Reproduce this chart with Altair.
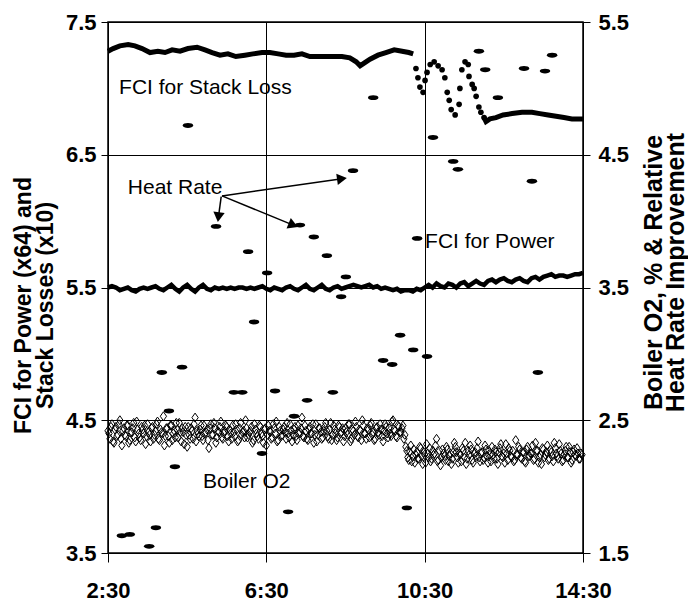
import altair as alt
import pandas as pd

FONT = "Liberation Sans"

# ---------------- data ----------------
# x in hours (2.5 = 2:30)
# Heat rate points (right axis units)
hr_time = [2.85, 3.05, 3.54, 3.71, 3.86, 4.04, 4.19, 4.37, 4.52, 5.23,
           5.68, 5.89, 6.04, 6.19, 6.39, 6.52, 6.72, 7.05, 7.20, 7.35,
           7.53, 7.70, 8.03, 8.18, 8.39, 8.51, 8.69, 9.20, 9.45, 9.68,
           9.88, 10.05, 10.21, 10.31, 10.56, 10.71, 11.22, 11.34, 11.87, 12.03,
           12.35, 13.01, 13.21, 13.36, 13.54, 13.72]
hr_value = [1.63, 1.64, 1.55, 1.69, 2.86, 2.57, 2.15, 2.90, 4.72, 3.96,
            2.71, 2.71, 3.77, 3.24, 2.25, 3.61, 2.72, 1.81, 2.53, 3.97,
            2.65, 3.88, 3.74, 2.71, 3.43, 3.58, 4.38, 4.93, 2.95, 2.92,
            3.14, 1.84, 3.03, 3.87, 2.98, 4.63, 4.45, 4.39, 5.28, 5.14,
            4.93, 5.15, 4.30, 2.86, 5.13, 5.25]

# FCI for stack loss (left axis units)
sl_time_a = [2.50, 2.63, 2.80, 3.01, 3.18, 3.36, 3.56, 3.76, 3.94, 4.12,
             4.32, 4.52, 4.75, 4.95, 5.13, 5.33, 5.53, 5.73, 5.96, 6.16,
             6.39, 6.59, 6.80, 7.00, 7.20, 7.40, 7.60, 7.81, 8.01, 8.21,
             8.41, 8.61, 8.77, 8.87, 8.97, 9.12, 9.32, 9.52, 9.73, 9.93,
             10.10, 10.21]
sl_val_a = [7.28, 7.30, 7.32, 7.33, 7.32, 7.30, 7.27, 7.28, 7.27, 7.29,
            7.28, 7.30, 7.31, 7.29, 7.27, 7.25, 7.26, 7.24, 7.25, 7.26,
            7.27, 7.27, 7.26, 7.25, 7.25, 7.26, 7.24, 7.24, 7.24, 7.24,
            7.24, 7.23, 7.20, 7.17, 7.19, 7.22, 7.25, 7.27, 7.29, 7.28,
            7.27, 7.26]
osc_time = [10.28, 10.33, 10.38, 10.46, 10.51, 10.56, 10.64, 10.74, 10.84, 10.94,
            11.01, 11.07, 11.12, 11.17, 11.27, 11.37, 11.39, 11.44, 11.52, 11.60,
            11.62, 11.70, 11.75, 11.80, 11.87, 11.92, 12.00]
osc_val = [7.15, 7.08, 7.01, 6.97, 7.06, 7.12, 7.18, 7.20, 7.17, 7.14,
           7.08, 6.97, 6.91, 6.84, 6.80, 6.88, 7.00, 7.14, 7.20, 7.18,
           7.09, 7.03, 7.00, 6.94, 6.86, 6.82, 6.78]
sl_time_b = [12.00, 12.05, 12.15, 12.30, 12.48, 12.71, 12.96, 13.21, 13.41, 13.62,
             13.82, 14.02, 14.22, 14.50]
sl_val_b = [6.78, 6.75, 6.77, 6.78, 6.80, 6.81, 6.82, 6.82, 6.81, 6.80,
            6.79, 6.78, 6.77, 6.77]

# FCI for power (left axis units), one reading every 0.1 h from 2:30
power_start, power_step = 2.5, 0.1
power_val = [5.50, 5.51, 5.50, 5.48, 5.49, 5.50, 5.48, 5.47, 5.49, 5.50,
             5.49, 5.50, 5.51, 5.49, 5.48, 5.50, 5.52, 5.49, 5.47, 5.50,
             5.52, 5.49, 5.47, 5.50, 5.52, 5.49, 5.48, 5.50, 5.49, 5.50,
             5.49, 5.50, 5.49, 5.50, 5.50, 5.49, 5.50, 5.49, 5.50, 5.51,
             5.49, 5.48, 5.50, 5.49, 5.48, 5.50, 5.51, 5.49, 5.48, 5.50,
             5.52, 5.49, 5.48, 5.50, 5.52, 5.49, 5.48, 5.50, 5.51, 5.49,
             5.50, 5.51, 5.52, 5.51, 5.50, 5.51, 5.52, 5.50, 5.51, 5.49,
             5.50, 5.49, 5.48, 5.49, 5.47, 5.48, 5.48, 5.47, 5.49, 5.48,
             5.50, 5.52, 5.50, 5.53, 5.51, 5.50, 5.53, 5.52, 5.50, 5.53,
             5.54, 5.51, 5.53, 5.55, 5.53, 5.52, 5.55, 5.56, 5.54, 5.56,
             5.57, 5.55, 5.54, 5.56, 5.57, 5.55, 5.54, 5.57, 5.58, 5.56,
             5.58, 5.59, 5.60, 5.58, 5.59, 5.59, 5.58, 5.59, 5.60, 5.60,
             5.61]

# Boiler O2 (right axis units), two interleaved reading series every 0.05 h
o2_start_a, o2_start_b, o2_step = 2.5, 2.525, 0.05
o2_val_a = [2.42, 2.36, 2.47, 2.33, 2.45, 2.39, 2.50, 2.31, 2.44, 2.38,
            2.46, 2.35, 2.41, 2.48, 2.34, 2.43, 2.37, 2.45, 2.40, 2.32,
            2.47, 2.39, 2.44, 2.36, 2.42, 2.49, 2.35, 2.41, 2.53, 2.38,
            2.44, 2.33, 2.46, 2.40, 2.37, 2.43, 2.48, 2.34, 2.41, 2.45,
            2.30, 2.39, 2.44, 2.36, 2.52, 2.42, 2.38, 2.46, 2.35, 2.40,
            2.43, 2.29, 2.47, 2.39, 2.44, 2.37, 2.41, 2.49, 2.36, 2.42,
            2.45, 2.34, 2.40, 2.46, 2.38, 2.43, 2.35, 2.48, 2.41, 2.37,
            2.44, 2.39, 2.42, 2.33, 2.47, 2.40, 2.36, 2.45, 2.38, 2.43,
            2.31, 2.46, 2.41, 2.37, 2.44, 2.49, 2.35, 2.42, 2.39, 2.45,
            2.36, 2.40, 2.47, 2.34, 2.43, 2.38, 2.46, 2.41, 2.52, 2.37,
            2.42, 2.35, 2.45, 2.40, 2.33, 2.47, 2.39, 2.44, 2.36, 2.42,
            2.48, 2.38, 2.43, 2.35, 2.46, 2.40, 2.37, 2.45, 2.41, 2.34,
            2.44, 2.39, 2.47, 2.36, 2.42, 2.49, 2.38, 2.43, 2.35, 2.46,
            2.40, 2.44, 2.37, 2.48, 2.41, 2.36, 2.45, 2.39, 2.43, 2.34,
            2.47, 2.40, 2.44, 2.38, 2.50, 2.42, 2.37, 2.45, 2.41, 2.46,
            2.39,
            2.27, 2.20, 2.31, 2.23, 2.18, 2.26, 2.21, 2.29, 2.17, 2.24,
            2.32, 2.22, 2.19, 2.27, 2.25, 2.36, 2.20, 2.16, 2.28, 2.23,
            2.30, 2.19, 2.25, 2.21, 2.33, 2.26, 2.18, 2.24, 2.29, 2.22,
            2.17, 2.27, 2.31, 2.20, 2.25, 2.23, 2.34, 2.19, 2.26, 2.22,
            2.28, 2.18, 2.24, 2.30, 2.21, 2.26, 2.17, 2.29, 2.23, 2.25,
            2.32, 2.20, 2.27, 2.22, 2.19, 2.35, 2.24, 2.28, 2.21, 2.26,
            2.18, 2.30, 2.23, 2.25, 2.20, 2.33, 2.27, 2.22, 2.17, 2.28,
            2.24, 2.31, 2.21, 2.26, 2.19, 2.29, 2.23, 2.32, 2.25, 2.20,
            2.27, 2.22, 2.30, 2.18, 2.26, 2.24, 2.29, 2.21, 2.25]
o2_val_b = [2.40, 2.45, 2.34, 2.43, 2.38, 2.47, 2.36, 2.42, 2.39, 2.46,
            2.33, 2.41, 2.44, 2.37, 2.49, 2.40, 2.35, 2.43, 2.46, 2.38,
            2.41, 2.34, 2.45, 2.39, 2.47, 2.36, 2.43, 2.40, 2.31, 2.44,
            2.38, 2.46, 2.35, 2.42, 2.48, 2.37, 2.41, 2.44, 2.32, 2.39,
            2.45, 2.36, 2.42, 2.47, 2.34, 2.40, 2.43, 2.38, 2.46, 2.41,
            2.35, 2.44, 2.39, 2.48, 2.33, 2.42, 2.45, 2.37, 2.40, 2.46,
            2.38, 2.43, 2.36, 2.41, 2.47, 2.34, 2.44, 2.39, 2.42, 2.50,
            2.37, 2.41, 2.45, 2.35, 2.43, 2.38, 2.46, 2.40, 2.33, 2.44,
            2.39, 2.42, 2.36, 2.47, 2.40, 2.34, 2.45, 2.38, 2.43, 2.41,
            2.48, 2.37, 2.42, 2.39, 2.45, 2.35, 2.40, 2.44, 2.38, 2.46,
            2.36, 2.43, 2.40, 2.47, 2.39, 2.34, 2.44, 2.41, 2.37, 2.45,
            2.42, 2.36, 2.48, 2.39, 2.43, 2.35, 2.46, 2.40, 2.44, 2.38,
            2.41, 2.47, 2.34, 2.43, 2.39, 2.45, 2.37, 2.42, 2.50, 2.40,
            2.36, 2.43, 2.46, 2.39, 2.35, 2.44, 2.41, 2.47, 2.38, 2.42,
            2.45, 2.37, 2.40, 2.49, 2.43, 2.38, 2.46, 2.41, 2.44, 2.36,
            2.30,
            2.22, 2.26, 2.19, 2.28, 2.24, 2.21, 2.30, 2.23, 2.26, 2.18,
            2.25, 2.29, 2.21, 2.24, 2.31, 2.19, 2.27, 2.22, 2.25, 2.20,
            2.28, 2.23, 2.17, 2.26, 2.30, 2.22, 2.25, 2.19, 2.27, 2.33,
            2.21, 2.24, 2.28, 2.18, 2.26, 2.29, 2.22, 2.25, 2.20, 2.31,
            2.23, 2.27, 2.19, 2.24, 2.28, 2.21, 2.26, 2.32, 2.22, 2.18,
            2.25, 2.29, 2.23, 2.27, 2.20, 2.24, 2.30, 2.22, 2.26, 2.19,
            2.28, 2.23, 2.25, 2.31, 2.21, 2.27, 2.18, 2.24, 2.29, 2.22,
            2.26, 2.20, 2.28, 2.23, 2.33, 2.25, 2.21, 2.27, 2.19, 2.24,
            2.30, 2.22, 2.26, 2.20, 2.28, 2.23, 2.25, 2.21, 2.24]

# annotations (left axis units)
label_text = ["FCI for Stack Loss", "Heat Rate", "FCI for Power", "Boiler O2"]
label_time = [2.78, 3.00, 10.51, 4.90]
label_val = [7.00, 6.25, 5.84, 4.035]

arrow_t0 = [5.38, 5.38, 5.36]
arrow_v0 = [6.19, 6.19, 6.185]
arrow_t1 = [8.41, 7.18, 5.29]
arrow_v1 = [6.32, 5.97, 6.03]
arrow_angle = [82, 112, 187]

x_ticks = [2.5, 6.5, 10.5, 14.5]
left_ticks = [3.5, 4.5, 5.5, 6.5, 7.5]
right_ticks = [1.5, 2.5, 3.5, 4.5, 5.5]

# ---------------- frames ----------------
df_hr = pd.DataFrame({"t": hr_time, "v": hr_value})
df_sl = pd.DataFrame({"t": sl_time_a + sl_time_b, "v": sl_val_a + sl_val_b,
                      "seg": ["a"] * len(sl_time_a) + ["b"] * len(sl_time_b)})
df_osc = pd.DataFrame({"t": osc_time, "v": osc_val})
df_pw = pd.DataFrame({"t": [power_start + power_step * i for i in range(len(power_val))],
                      "v": power_val})
df_o2 = pd.DataFrame({
    "t": [o2_start_a + o2_step * i for i in range(len(o2_val_a))]
         + [o2_start_b + o2_step * i for i in range(len(o2_val_b))],
    "v": o2_val_a + o2_val_b})
df_lab = pd.DataFrame({"t": label_time, "v": label_val, "txt": label_text})
df_arr = pd.DataFrame({"t": arrow_t0, "v": arrow_v0, "t2": arrow_t1, "v2": arrow_v1,
                       "ang": arrow_angle})

# ---------------- scales & axes ----------------
x_scale = alt.Scale(domain=[2.5, 14.5], nice=False, zero=False)
yl_scale = alt.Scale(domain=[3.5, 7.5], nice=False, zero=False)
yr_scale = alt.Scale(domain=[1.5, 5.5], nice=False, zero=False)

x_axis = alt.Axis(values=x_ticks, labelExpr="floor(datum.value) + ':30'", title=None,
                  grid=True, tickSize=9, labelPadding=18, labelFlush=False,
                  labelOverlap=False)
yl_axis = alt.Axis(values=left_ticks, format=".1f", grid=True, tickSize=7,
                   labelPadding=5, title=["FCI for Power (x64) and", "Stack Losses (x10)"],
                   titleAngle=270, titleBaseline="bottom", titleX=-73, titleY=283,
                   titleFontSize=23, titleLineHeight=22)
yr_axis = alt.Axis(values=right_ticks, format=".1f", grid=False, orient="right",
                   tickSize=7, labelPadding=8,
                   title=["Boiler O2, %  & Relative", "Heat Rate Improvement"],
                   titleAngle=270, titleBaseline="top", titleX=58, titleY=250,
                   titleFontSize=25, titleLineHeight=22)

X = alt.X("t:Q", scale=x_scale, axis=x_axis)
YL = alt.Y("v:Q", scale=yl_scale, axis=yl_axis)
YR = alt.Y("v:Q", scale=yr_scale, axis=yr_axis)

ELLIPSE = "M-1,0 C-1,-0.62 1,-0.62 1,0 C1,0.62 -1,0.62 -1,0 Z"
DIAMOND = "M0,-1 L0.7,0 L0,1 L-0.7,0 Z"

stack_line = alt.Chart(df_sl).mark_line(color="black", strokeWidth=5).encode(
    x=X, y=YL, detail="seg:N")
stack_osc = alt.Chart(df_osc).mark_point(filled=True, color="black", size=32,
                                         shape="circle", opacity=1).encode(x=X, y=YL)
power_line = alt.Chart(df_pw).mark_line(color="black", strokeWidth=4.5).encode(x=X, y=YL)
labels = alt.Chart(df_lab).mark_text(font=FONT, fontSize=21, align="left",
                                     baseline="middle", color="black").encode(
    x=X, y=YL, text="txt:N")
arrows = alt.Chart(df_arr).mark_rule(color="black", strokeWidth=1.5).encode(
    x=X, y=YL, x2="t2:Q", y2="v2:Q")
heads = alt.Chart(df_arr).mark_point(shape="triangle-up", filled=True, color="black",
                                     size=130, opacity=1).encode(
    x=alt.X("t2:Q", scale=x_scale, axis=x_axis),
    y=alt.Y("v2:Q", scale=yl_scale, axis=yl_axis), angle=alt.Angle("ang:Q", scale=None))

left = alt.layer(power_line, stack_line, stack_osc, arrows, heads, labels)

o2 = alt.Chart(df_o2).mark_point(shape=DIAMOND, filled=False, color="black",
                                 strokeWidth=1, size=81, opacity=1).encode(x=X, y=YR)
hr = alt.Chart(df_hr).mark_point(shape=ELLIPSE, filled=True, color="black",
                                 size=110, opacity=1).encode(x=X, y=YR)
right = alt.layer(o2, hr)

chart = alt.layer(left, right).resolve_scale(y="independent").properties(
    width=475, height=531,
    autosize=alt.AutoSizeParams(type="none"),
    padding={"left": 108, "top": 22, "right": 105, "bottom": 50},
    background="white",
).configure_axis(
    labelFont=FONT, titleFont=FONT, labelFontSize=22, labelFontWeight="bold",
    titleFontWeight="bold", labelColor="black", titleColor="black",
    tickColor="black", gridColor="black", gridWidth=1, gridOpacity=1,
    domain=False, tickWidth=1,
).configure_view(stroke="black", strokeWidth=1.5)

chart.save("out.html", embed_options={"renderer": "svg", "actions": False})
